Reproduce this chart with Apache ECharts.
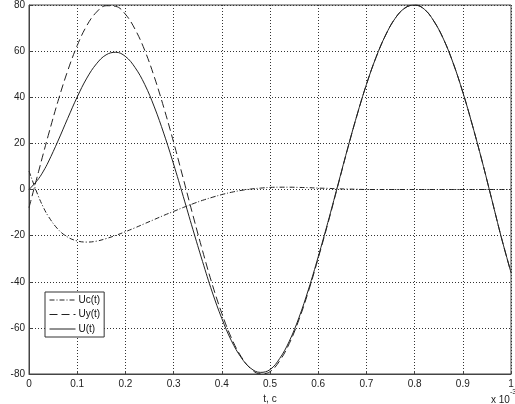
<!DOCTYPE html>
<html>
<head>
<meta charset="utf-8">
<script src="https://cdn.jsdelivr.net/npm/echarts@6/dist/echarts.min.js"></script>
<style>
html,body{margin:0;padding:0;background:#fff;}
#chart{width:515px;height:404px;}
</style>
</head>
<body>
<div id="chart"></div>
<script>
// time, in units of 1e-3 s
const tValues = [0, 0.01, 0.02, 0.03, 0.04, 0.06, 0.08, 0.10, 0.12, 0.14, 0.16, 0.18, 0.20,
  0.22, 0.24, 0.26, 0.28, 0.30, 0.32, 0.34, 0.36, 0.38, 0.40, 0.42, 0.44, 0.46, 0.48, 0.50,
  0.52, 0.54, 0.56, 0.58, 0.60, 0.62, 0.64, 0.66, 0.68, 0.70, 0.72, 0.74, 0.76, 0.78, 0.80,
  0.82, 0.84, 0.86, 0.88, 0.90, 0.92, 0.94, 0.96, 0.98, 1.00];

const ucValues = [8.0, 2.2, -3.2, -7.8, -11.6, -17.2, -20.6, -22.3, -22.8, -22.4, -21.3, -19.9, -18.3,
  -16.6, -14.8, -13.0, -11.2, -9.5, -7.8, -6.2, -4.7, -3.4, -2.2, -1.2, -0.4, 0.2, 0.6, 0.9,
  1.0, 1.0, 0.9, 0.8, 0.6, 0.5, 0.3, 0.2, 0.1, 0.0, 0.0, 0.0, 0.0, 0.0, 0.0,
  0.0, 0.0, 0.0, 0.0, 0.0, 0.0, 0.0, 0.0, 0.0, 0.0];

const uyValues = [-7.9, 0.0, 7.9, 15.8, 23.5, 38.2, 51.3, 62.4, 71.1, 76.9, 79.7, 79.4, 76.0,
  69.5, 60.4, 48.8, 35.3, 20.5, 4.8, -11.1, -26.5, -41.0, -53.7, -64.4, -72.4, -77.7, -79.9, -79.0,
  -74.3, -66.8, -56.5, -44.0, -29.8, -14.8, 1.0, 16.8, 31.8, 45.5, 57.3, 67.0, 74.3, 78.7, 80.0,
  78.2, 73.0, 65.2, 54.8, 42.2, 27.8, 12.3, -4.2, -20.8, -36.0];

const uValues = [0.0, 2.2, 4.7, 8.0, 11.9, 21.0, 30.7, 40.1, 48.3, 54.5, 58.4, 59.5, 57.7,
  52.9, 45.6, 35.8, 24.1, 11.0, -3.0, -17.3, -31.2, -44.4, -55.9, -65.6, -72.8, -77.5, -79.3, -78.1,
  -73.3, -65.8, -55.6, -43.2, -29.2, -14.3, 1.3, 17.0, 31.9, 45.5, 57.3, 67.0, 74.3, 78.7, 80.0,
  78.2, 73.0, 65.2, 54.8, 42.2, 27.8, 12.3, -4.2, -20.8, -36.0];

const seriesNames = ['Uc(t)', 'Uy(t)', 'U(t)'];
const xTicks = { min: 0, max: 1, interval: 0.1 };
const yTicks = { min: -80, max: 80, interval: 20 };

const pair = vals => tValues.map((t, i) => [t, vals[i]]);
const font = '"Liberation Sans", Arial, sans-serif';

const chart = echarts.init(document.getElementById('chart'), null, { renderer: 'canvas' });
chart.setOption({
  backgroundColor: '#ffffff',
  animation: false,
  textStyle: { fontFamily: font },
  grid: {
    left: 29, right: 4, top: 5, bottom: 30,
    show: true, borderColor: '#444', borderWidth: 1, backgroundColor: '#fff',
    containLabel: false, outerBoundsMode: 'none'
  },
  legend: {
    orient: 'vertical',
    left: 45, top: 292,
    data: seriesNames,
    itemWidth: 26, itemHeight: 8, itemGap: 4.5,
    padding: [3, 4, 3, 4],
    borderColor: '#333', borderWidth: 1,
    backgroundColor: '#fff',
    itemStyle: { opacity: 0, color: 'rgba(0,0,0,0)', borderWidth: 0 },
    lineStyle: { width: 1 },
    textStyle: { fontSize: 10, color: '#111', fontFamily: font, padding: [0, 0, 0, -2] }
  },
  xAxis: {
    type: 'value',
    min: xTicks.min, max: xTicks.max, interval: xTicks.interval,
    name: 't, c', nameLocation: 'middle', nameGap: 20,
    nameTextStyle: { fontSize: 10, color: '#222', fontFamily: font },
    axisLine: { show: true, onZero: false, lineStyle: { color: '#444', width: 1 } },
    axisTick: { show: true, inside: true, length: 3, lineStyle: { color: '#444' } },
    axisLabel: {
      fontSize: 10, color: '#222', margin: 5, fontFamily: font,
      formatter: v => String(+v.toFixed(1))
    },
    splitLine: { show: true, lineStyle: { color: '#333', type: [1, 2], width: 1 } }
  },
  yAxis: {
    type: 'value',
    min: yTicks.min, max: yTicks.max, interval: yTicks.interval,
    name: 'U, B', nameLocation: 'middle', nameGap: 20, nameRotate: 90,
    nameTextStyle: { fontSize: 10, color: '#222', fontFamily: font },
    axisLine: { show: true, onZero: false, lineStyle: { color: '#444', width: 1 } },
    axisTick: { show: true, inside: true, length: 3, lineStyle: { color: '#444' } },
    axisLabel: { fontSize: 10, color: '#222', margin: 4, fontFamily: font },
    splitLine: { show: true, lineStyle: { color: '#333', type: [1, 2], width: 1 } }
  },
  graphic: [{
    type: 'text',
    left: 491, top: 389,
    style: {
      text: '{a|x 10}{b|-3}',
      rich: {
        a: { fontSize: 10, fill: '#222', fontFamily: font, verticalAlign: 'bottom', padding: [6, 0, 0, 0] },
        b: { fontSize: 7, fill: '#222', fontFamily: font, verticalAlign: 'top' }
      }
    }
  }],
  series: [
    {
      name: seriesNames[0], type: 'line', data: pair(ucValues),
      symbol: 'none', smooth: 0.4,
      lineStyle: { color: '#222', width: 1, type: [5, 2, 1, 2] },
      itemStyle: { color: '#222' }
    },
    {
      name: seriesNames[1], type: 'line', data: pair(uyValues),
      symbol: 'none', smooth: 0.4,
      lineStyle: { color: '#222', width: 1, type: [8, 4] },
      itemStyle: { color: '#222' }
    },
    {
      name: seriesNames[2], type: 'line', data: pair(uValues),
      symbol: 'none', smooth: 0.4,
      lineStyle: { color: '#222', width: 1, type: 'solid' },
      itemStyle: { color: '#222' }
    }
  ]
});
</script>
</body>
</html>
